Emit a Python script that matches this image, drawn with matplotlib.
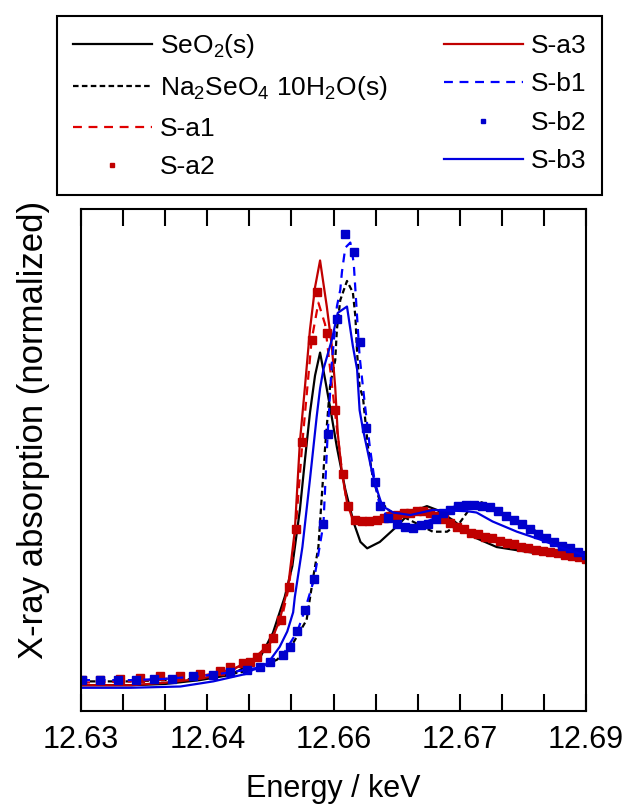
import numpy as np
import matplotlib
matplotlib.use('Agg')
import matplotlib.pyplot as plt
from matplotlib.ticker import FixedFormatter, FixedLocator

plt.rcParams['font.family'] = ['Liberation Sans', 'DejaVu Sans']
plt.rcParams['mathtext.default'] = 'regular'

# energies (keV) and normalized absorption
seo2_x = [12.630, 12.636, 12.640, 12.6441, 12.6477, 12.6489, 12.6513, 12.6528, 12.6542,
          12.6551, 12.6560, 12.6566, 12.6572, 12.6578, 12.6584, 12.6590, 12.6596, 12.6604,
          12.6614, 12.6624, 12.6632, 12.6640, 12.6655, 12.6675, 12.6691, 12.6711, 12.6723,
          12.6742, 12.6766, 12.6794, 12.6833, 12.6873, 12.6901]
seo2_y = [-0.02, -0.02, -0.01, 0.02, 0.06, 0.10, 0.20, 0.39, 0.67,
          0.91, 1.35, 1.74, 2.11, 2.40, 2.58, 2.37, 2.15, 1.84,
          1.51, 1.25, 1.10, 1.05, 1.10, 1.22, 1.33, 1.38, 1.35,
          1.27, 1.14, 1.06, 1.02, 0.98, 0.96]

na_x = [12.630, 12.636, 12.640, 12.6441, 12.6489, 12.6513, 12.6533, 12.6552, 12.6568,
        12.6576, 12.6582, 12.6586, 12.6590, 12.6596, 12.6602, 12.6604, 12.6608, 12.6616,
        12.6623, 12.6626, 12.6628, 12.6631, 12.6635, 12.6641, 12.6647, 12.6655, 12.6667,
        12.6685, 12.6703, 12.6718, 12.6735, 12.6750, 12.6762, 12.6776, 12.6789, 12.6810,
        12.6842, 12.6877, 12.6901]
na_y = [0.01, 0.01, 0.02, 0.03, 0.08, 0.12, 0.18, 0.31, 0.49,
        0.83, 1.06, 1.45, 1.84, 2.33, 2.52, 2.76, 2.99, 3.14,
        3.05, 2.86, 2.58, 2.31, 2.23, 1.84, 1.59, 1.42, 1.34,
        1.29, 1.23, 1.18, 1.18, 1.25, 1.36, 1.41, 1.37, 1.29,
        1.18, 1.05, 1.00]

sa1_x = [12.630, 12.636, 12.640, 12.6441, 12.6477, 12.6501, 12.6520, 12.6538, 12.6547,
         12.6555, 12.6563, 12.6574, 12.6582, 12.6590, 12.6596, 12.6602, 12.6611, 12.6617,
         12.6626, 12.6642, 12.6660, 12.6684, 12.6706, 12.6723, 12.6747, 12.6772, 12.6806,
         12.6841, 12.6875, 12.6900]
sa1_y = [0.00, 0.01, 0.03, 0.05, 0.10, 0.16, 0.27, 0.49, 0.75,
         1.20, 1.88, 2.68, 2.97, 2.80, 2.45, 2.10, 1.60, 1.37,
         1.27, 1.26, 1.29, 1.33, 1.34, 1.30, 1.22, 1.16, 1.09,
         1.04, 1.00, 0.97]

sa2_x = [12.6301, 12.6323, 12.6346, 12.6370, 12.6394, 12.6418, 12.6441, 12.6465, 12.6477,
         12.6492, 12.6501, 12.6509, 12.6520, 12.6528, 12.6538, 12.6547, 12.6555, 12.6563,
         12.6574, 12.6580, 12.6592, 12.6602, 12.6611, 12.6617, 12.6626, 12.6634, 12.6642,
         12.6652, 12.6660, 12.6667, 12.6675, 12.6684, 12.6691, 12.6699, 12.6706, 12.6715,
         12.6723, 12.6731, 12.6738, 12.6747, 12.6755, 12.6763, 12.6772, 12.6780, 12.6788,
         12.6798, 12.6806, 12.6814, 12.6823, 12.6831, 12.6841, 12.6849, 12.6857, 12.6867,
         12.6875, 12.6883, 12.6892, 12.6900]
sa2_y = [0.02, 0.02, 0.03, 0.04, 0.05, 0.05, 0.07, 0.09, 0.12,
         0.15, 0.16, 0.20, 0.27, 0.35, 0.49, 0.75, 1.20, 1.88,
         2.68, 3.05, 2.73, 2.13, 1.63, 1.38, 1.27, 1.26, 1.26,
         1.27, 1.29, 1.30, 1.31, 1.33, 1.33, 1.34, 1.34, 1.33,
         1.30, 1.28, 1.25, 1.22, 1.20, 1.17, 1.16, 1.14, 1.13,
         1.11, 1.09, 1.08, 1.06, 1.05, 1.04, 1.03, 1.02, 1.01,
         1.00, 0.99, 0.98, 0.97]

sa3_x = [12.630, 12.636, 12.640, 12.6441, 12.6477, 12.6485, 12.6504, 12.6525, 12.6536,
         12.6546, 12.6554, 12.6560, 12.6566, 12.6572, 12.6578, 12.6584, 12.6592, 12.6598,
         12.6602, 12.6605, 12.6610, 12.6616, 12.6623, 12.6635, 12.6652, 12.6679, 12.6694,
         12.6711, 12.6721, 12.6738, 12.6759, 12.6782, 12.6806, 12.6837, 12.6869, 12.6899]
sa3_y = [-0.02, -0.02, 0.00, 0.03, 0.08, 0.12, 0.18, 0.31, 0.49,
         0.75, 1.19, 1.88, 2.31, 2.76, 3.09, 3.30, 2.94, 2.63,
         2.31, 1.95, 1.64, 1.41, 1.27, 1.25, 1.27, 1.31, 1.34,
         1.34, 1.31, 1.27, 1.19, 1.13, 1.08, 1.04, 1.00, 0.98]

sb1_x = [12.630, 12.636, 12.640, 12.6441, 12.6477, 12.6513, 12.6540, 12.6557, 12.6566,
         12.6577, 12.6588, 12.6593, 12.6598, 12.6604, 12.6608, 12.6610, 12.6614, 12.6620,
         12.6624, 12.6628, 12.6631, 12.6637, 12.6643, 12.6649, 12.6655, 12.6665, 12.6680,
         12.6700, 12.6722, 12.6740, 12.6760, 12.6780, 12.6805, 12.6833, 12.6862, 12.6890,
         12.6900]
sb1_y = [0.02, 0.02, 0.03, 0.05, 0.08, 0.12, 0.22, 0.40, 0.57,
         0.81, 1.24, 1.94, 2.50, 2.94, 3.07, 3.21, 3.40, 3.44,
         3.28, 2.86, 2.55, 2.19, 1.85, 1.57, 1.38, 1.29, 1.23,
         1.23, 1.29, 1.37, 1.40, 1.38, 1.30, 1.20, 1.10, 1.02,
         1.00]

sb2_x = [12.6301, 12.6323, 12.6344, 12.6365, 12.6387, 12.6408, 12.6433, 12.6457, 12.6477,
         12.6497, 12.6513, 12.6525, 12.6540, 12.6548, 12.6557, 12.6566, 12.6577, 12.6588,
         12.6593, 12.6604, 12.6614, 12.6624, 12.6631, 12.6639, 12.6649, 12.6655, 12.6665,
         12.6675, 12.6685, 12.6694, 12.6704, 12.6712, 12.6722, 12.6730, 12.6738, 12.6748,
         12.6757, 12.6767, 12.6776, 12.6786, 12.6795, 12.6805, 12.6814, 12.6824, 12.6833,
         12.6843, 12.6852, 12.6862, 12.6871, 12.6881, 12.6890, 12.6900]
sb2_y = [0.02, 0.02, 0.02, 0.02, 0.03, 0.03, 0.05, 0.06, 0.08,
         0.10, 0.12, 0.16, 0.22, 0.28, 0.40, 0.57, 0.81, 1.24,
         1.94, 2.84, 3.51, 3.37, 2.66, 1.99, 1.57, 1.38, 1.29,
         1.24, 1.22, 1.21, 1.23, 1.24, 1.28, 1.33, 1.35, 1.38,
         1.39, 1.39, 1.38, 1.37, 1.34, 1.30, 1.27, 1.24, 1.20,
         1.16, 1.13, 1.10, 1.07, 1.05, 1.02, 1.00]

sb3_x = [12.630, 12.6358, 12.6418, 12.6457, 12.6477, 12.6497, 12.6504, 12.6516, 12.6525,
         12.6536, 12.6545, 12.6552, 12.6554, 12.6563, 12.6572, 12.6580, 12.6584, 12.6588,
         12.6598, 12.6605, 12.6616, 12.6623, 12.6628, 12.6631, 12.6635, 12.6646, 12.6653,
         12.6658, 12.6671, 12.6691, 12.6718, 12.6759, 12.6770, 12.6789, 12.6818, 12.6845,
         12.6873, 12.6896, 12.6901]
sb3_y = [-0.04, -0.04, -0.03, 0.01, 0.04, 0.07, 0.10, 0.12, 0.18,
         0.28, 0.40, 0.55, 0.67, 1.06, 1.59, 2.08, 2.30, 2.45,
         2.68, 2.89, 2.94, 2.63, 2.45, 2.13, 1.98, 1.64, 1.48,
         1.38, 1.33, 1.31, 1.35, 1.34, 1.33, 1.26, 1.18, 1.12,
         1.05, 1.00, 0.99]

tick_labels = ['12.63', '', '', '12.64', '', '', '12.66', '', '', '12.67', '', '', '12.69']

red = '#c00000'
red_dash = '#e00000'
blue = '#0000cc'

fig = plt.figure(figsize=(6.24, 8.05), dpi=100)
ax = fig.add_axes([0.130, 0.117, 0.809, 0.623])

ax.plot(seo2_x, seo2_y, color='black', lw=1.6, label='SeO$_2$(s)')
ax.plot(na_x, na_y, color='black', lw=1.6, ls=(0, (2.5, 1.5)),
        label='Na$_2$SeO$_4$ 10H$_2$O(s)')
ax.plot(sa1_x, sa1_y, color=red_dash, lw=1.6, ls=(0, (4, 3)), label='S-a1')
ax.plot(sa2_x, sa2_y, ls='none', marker='s', ms=6, color=red, label='S-a2')
ax.plot(sa3_x, sa3_y, color=red, lw=1.6, label='S-a3')
ax.plot(sb1_x, sb1_y, color='#0000ff', lw=1.6, ls=(0, (4, 3)), label='S-b1')
ax.plot(sb2_x, sb2_y, ls='none', marker='s', ms=6, color=blue, label='S-b2')
ax.plot(sb3_x, sb3_y, color='#0000e0', lw=1.6, label='S-b3')

ax.set_xlim(12.63, 12.69)
ax.set_ylim(-0.22, 3.70)
ticks = [12.63 + 0.005 * i for i in range(13)]
ax.xaxis.set_major_locator(FixedLocator(ticks))
ax.xaxis.set_major_formatter(FixedFormatter(tick_labels))
ax.set_yticks([])
ax.tick_params(axis='x', direction='in', top=True, length=12, width=1.5,
               labelsize=22, pad=10)
for s in ax.spines.values():
    s.set_linewidth(1.5)

ax.set_xlabel('Energy / keV', fontsize=22, labelpad=14)
ax.set_ylabel('X-ray absorption (normalized)', fontsize=25)
ax.yaxis.set_label_coords(-0.062, 0.56)

# legend box across the top
handles, labels = ax.get_legend_handles_labels()
leg = fig.legend(handles, labels, ncol=2, loc='upper left',
                 bbox_to_anchor=(0.0913, 0.754, 0.874, 0.226), mode='expand',
                 borderaxespad=0, fontsize=19, handlelength=3.0, handletextpad=0.3,
                 numpoints=1, markerscale=0.6, labelspacing=0.55, borderpad=0.6,
                 frameon=True, fancybox=False, edgecolor='black', framealpha=1)
leg.get_frame().set_linewidth(1.5)

fig.savefig('out.png', dpi=100)
